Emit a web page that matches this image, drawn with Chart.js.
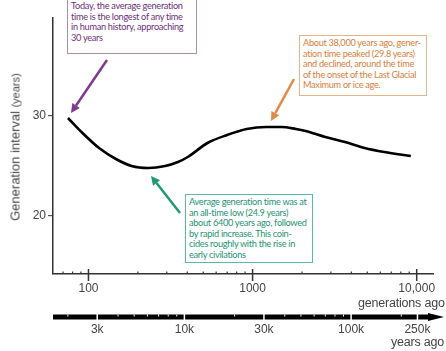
<!DOCTYPE html>
<html lang="en">
<head>
  <meta charset="UTF-8" />
  <title>Generation interval</title>
  <script src="https://cdn.jsdelivr.net/npm/chart.js@4"></script>
  <style>
    body { margin: 0; background: #fff; }
    #wrap { position: relative; width: 446px; height: 351px; overflow: hidden; font-family: "Liberation Sans", Arial, sans-serif; }
    #chart { position: absolute; left: 0; top: 0; }
    .note { position: absolute; box-sizing: border-box; background: #fff; font-family: Lato, "Open Sans", sans-serif;
            font-size: 9.2px; letter-spacing: -0.3px; line-height: 10.6px; white-space: nowrap; padding: 2px 3px; }
    .lbl { position: absolute; color: #444; font-size: 12.5px; letter-spacing: -0.2px; white-space: nowrap; }
  </style>
</head>
<body>
  <div id="wrap">
    <canvas id="chart" width="446" height="351"></canvas>

    <div class="note" style="left:67px; top:-2px; width:130px; height:56px; border:1px solid #a58fae; color:#6e2f80;">Today, the average generation<br>time is the longest of any time<br>in human history, approaching<br>30 years</div>
    <div class="note" style="left:299px; top:35px; width:128px; height:61px; border:1px solid #e3b48e; color:#d8803c;">About 38,000 years ago, gener-<br>ation time peaked (29.8 years)<br>and declined, around the time<br>of the onset of the Last Glacial<br>Maximum or ice age.</div>
    <div class="note" style="left:185px; top:194px; width:128px; height:69px; border:1px solid #5bbba2; color:#1e9470;">Average generation time was at<br>an all-time low (24.9 years)<br>about 6400 years ago, followed<br>by rapid increase. This coin-<br>cides roughly with the rise in<br>early civilations</div>

    <div class="lbl" style="left:15px; top:147px; font-size:13px; letter-spacing:0; transform: translate(-50%, -50%) rotate(-90deg);">Generation interval <span style="font-size:11px;">(years)</span></div>
    <div class="lbl" style="left:358px; top:296px;">generations ago</div>
    <div class="lbl" style="left:391px; top:335px;">years ago</div>
  </div>

  <script>
    // curve
    const generations = [75, 92, 116, 147, 183, 232, 293, 351, 403, 531, 699, 921, 1213, 1500, 1834, 2104, 2773, 3656, 4819, 6343, 9205];
    const interval    = [29.8, 28.3, 26.8, 25.7, 25.0, 24.8, 25.0, 25.4, 25.9, 27.3, 28.1, 28.7, 28.9, 28.9, 28.7, 28.5, 27.9, 27.4, 26.8, 26.4, 26.0];

    const yTicks = [20, 30];
    const genMajor = [100, 1000, 10000];
    const genMajorLabels = ['100', '1000', '10,000'];
    const genTicks = [70, 80, 90, 100, 200, 300, 400, 500, 600, 700, 800, 900, 1000,
                      2000, 3000, 4000, 5000, 6000, 7000, 8000, 9000, 10000];
    const yearMajor = [3000, 10000, 30000, 100000, 250000];
    const yearMajorLabels = ['3k', '10k', '30k', '100k', '250k'];
    const yearTicks = [2000, 3000, 4000, 5000, 6000, 7000, 8000, 9000, 10000,
                       20000, 30000, 40000, 50000, 60000, 70000, 80000, 90000,
                       100000, 200000, 250000];

    const tickFont = { family: '"Liberation Sans", Arial, sans-serif', size: 12 };

    // tick marks, years bar and the three arrows
    const decor = {
      id: 'decor',
      afterDraw(chart) {
        const ctx = chart.ctx;
        const x = chart.scales.x, x2 = chart.scales.x2;
        const ay = chart.chartArea.bottom;
        ctx.save();
        ctx.strokeStyle = '#333';
        genTicks.forEach(v => {
          const px = x.getPixelForValue(v);
          ctx.beginPath();
          if (genMajor.includes(v)) {
            ctx.lineWidth = 1.5;
            ctx.moveTo(px, ay - 5); ctx.lineTo(px, ay + 7);
          } else {
            ctx.lineWidth = 1.2;
            ctx.moveTo(px, ay - 2.5); ctx.lineTo(px, ay);
          }
          ctx.stroke();
        });

        // years ago bar
        const by = x2.top + 10;
        ctx.fillStyle = '#000';
        ctx.fillRect(x2.left, by - 2.5, 430 - x2.left, 5);
        ctx.beginPath();
        ctx.moveTo(428, by - 4); ctx.lineTo(444, by); ctx.lineTo(428, by + 4);
        ctx.closePath(); ctx.fill();
        ctx.strokeStyle = '#fff';
        yearTicks.forEach(v => {
          const px = x2.getPixelForValue(v);
          ctx.beginPath();
          if (yearMajor.includes(v)) {
            ctx.lineWidth = 1.5;
            ctx.moveTo(px, by - 3); ctx.lineTo(px, by + 3);
          } else {
            ctx.lineWidth = 1;
            ctx.moveTo(px, by - 2.5); ctx.lineTo(px, by - 0.5);
          }
          ctx.stroke();
        });

        const arrow = (x0, y0, x1, y1, col) => {
          const a = Math.atan2(y1 - y0, x1 - x0);
          const h = 9, w = 4.5;
          const bx = x1 - h * Math.cos(a), byy = y1 - h * Math.sin(a);
          ctx.strokeStyle = col; ctx.fillStyle = col; ctx.lineWidth = 2.5;
          ctx.beginPath(); ctx.moveTo(x0, y0); ctx.lineTo(bx, byy); ctx.stroke();
          ctx.beginPath();
          ctx.moveTo(x1, y1);
          ctx.lineTo(bx + w * Math.sin(a), byy - w * Math.cos(a));
          ctx.lineTo(bx - w * Math.sin(a), byy + w * Math.cos(a));
          ctx.closePath(); ctx.fill();
        };
        arrow(107, 60, 71, 113, '#7d3b8e');
        arrow(294, 79, 271, 121, '#e08a48');
        arrow(180, 213, 151, 176, '#1f9a72');
        ctx.restore();
      }
    };

    new Chart(document.getElementById('chart'), {
      type: 'line',
      data: {
        datasets: [{
          data: generations.map((g, i) => ({ x: g, y: interval[i] })),
          borderColor: '#000',
          borderWidth: 2.6,
          pointRadius: 0,
          cubicInterpolationMode: 'monotone',
          fill: false
        }]
      },
      options: {
        responsive: false,
        animation: false,
        devicePixelRatio: 1,
        layout: { padding: { top: 18, right: 6, left: 0, bottom: 0 } },
        plugins: { legend: { display: false }, tooltip: { enabled: false } },
        scales: {
          y: {
            type: 'linear', min: 14.2, max: 39.8,
            afterFit: s => { s.width = 53; },
            afterBuildTicks: s => { s.ticks = yTicks.map(v => ({ value: v })); },
            ticks: { font: tickFont, color: '#444', padding: 2 },
            grid: { drawOnChartArea: false, tickLength: 5, color: '#555', lineWidth: 1.2 },
            border: { color: '#333', width: 1.5 }
          },
          x: {
            type: 'logarithmic', position: 'bottom', weight: 0,
            min: 60.8, max: 12600,
            afterFit: s => { s.height = 33; },
            afterBuildTicks: s => { s.ticks = genTicks.map(v => ({ value: v })); },
            ticks: {
              font: tickFont, color: '#444', padding: 7, autoSkip: false, maxRotation: 0,
              callback: v => genMajorLabels[genMajor.indexOf(v)] || ''
            },
            grid: { display: false, drawTicks: false },
            border: { color: '#333', width: 1.5 }
          },
          x2: {
            type: 'logarithmic', position: 'bottom', weight: 1,
            min: 1629, max: 310600,
            afterFit: s => { s.height = 44; },
            afterBuildTicks: s => { s.ticks = yearMajor.map(v => ({ value: v })); },
            ticks: {
              font: tickFont, color: '#444', padding: 15, autoSkip: false, maxRotation: 0,
              callback: v => yearMajorLabels[yearMajor.indexOf(v)] || ''
            },
            grid: { display: false, drawTicks: false },
            border: { display: false }
          }
        }
      },
      plugins: [decor]
    });
  </script>
</body>
</html>
